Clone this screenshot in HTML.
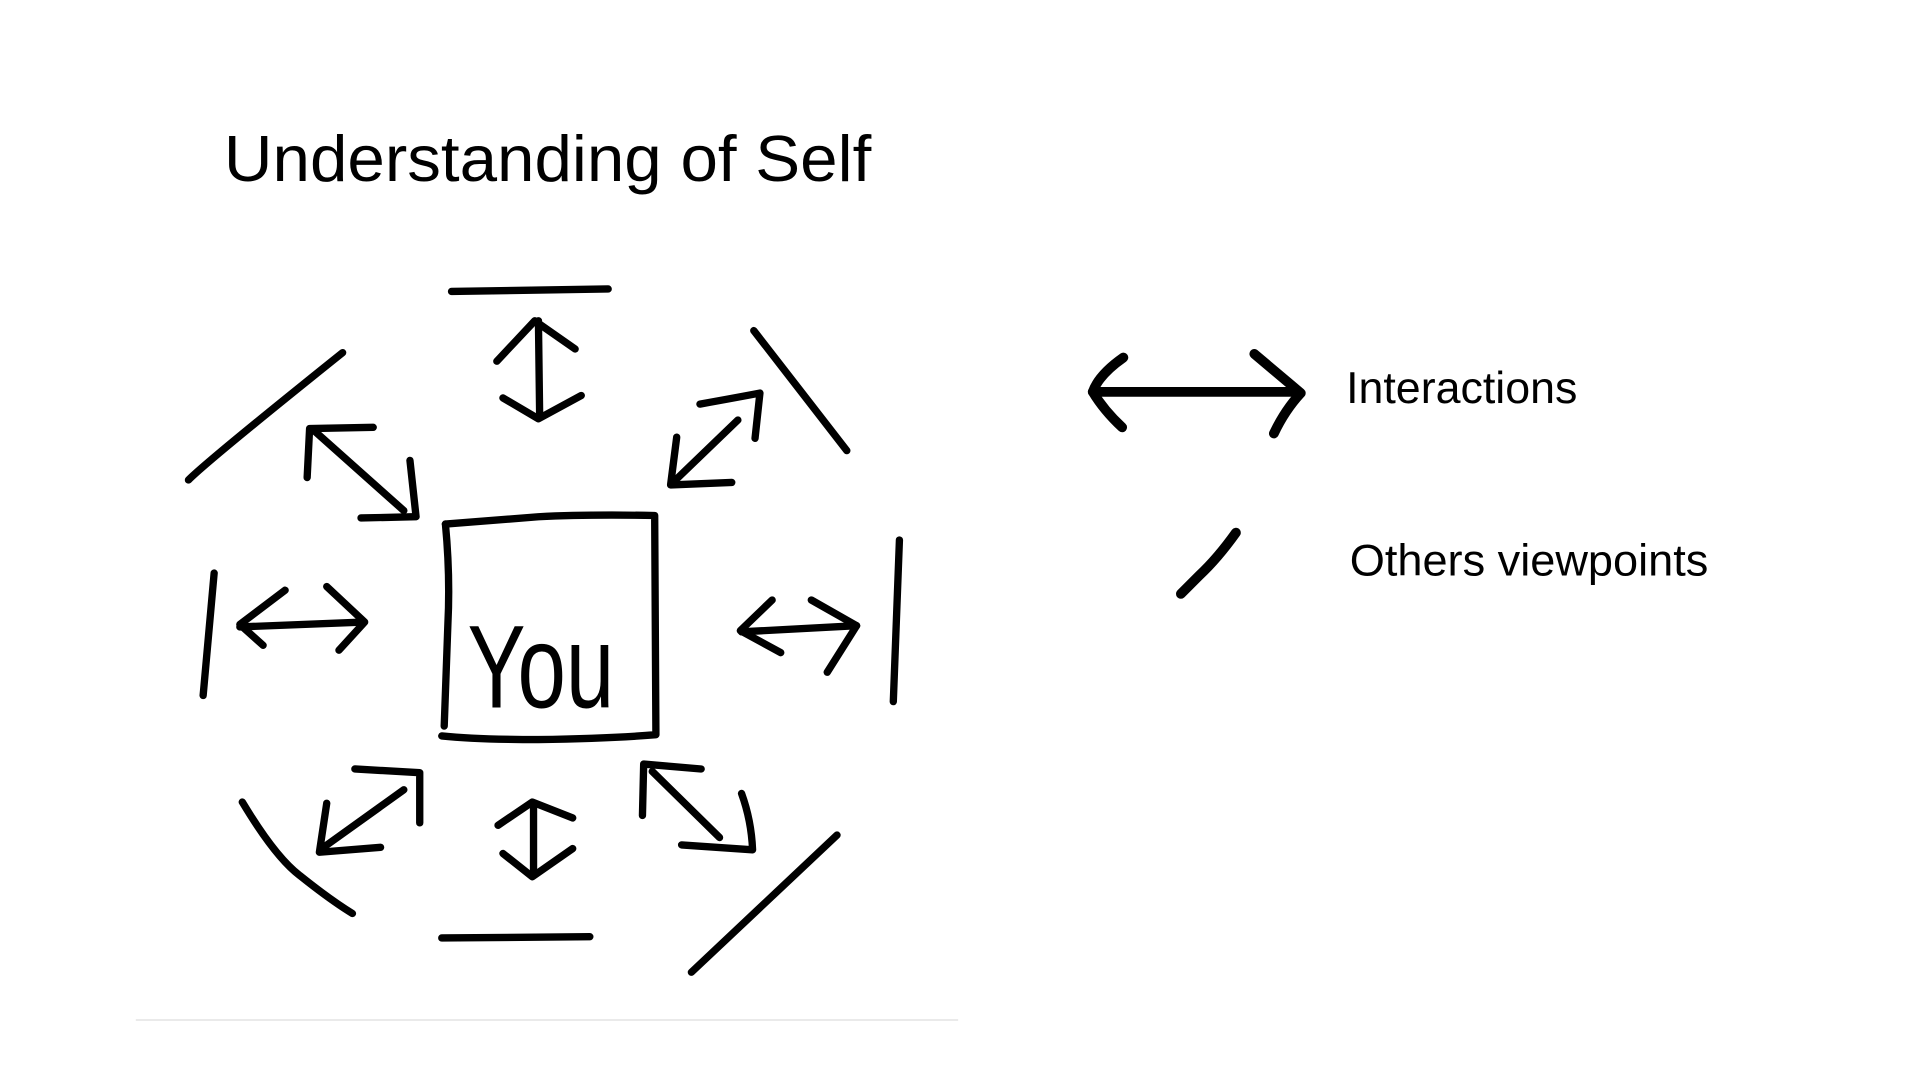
<!DOCTYPE html>
<html><head><meta charset="utf-8"><style>
html,body{margin:0;padding:0;background:#fff;width:1920px;height:1080px;overflow:hidden}
svg{display:block}
</style></head><body>
<svg width="1920" height="1080" viewBox="0 0 1569 882" preserveAspectRatio="none" xmlns="http://www.w3.org/2000/svg">
<rect width="1569" height="882" fill="#fff"/>
<text x="183" y="148" font-family="Liberation Sans, sans-serif" font-size="53" fill="#000" textLength="529" lengthAdjust="spacingAndGlyphs">Understanding of Self</text>
<text x="1100" y="329" font-family="Liberation Sans, sans-serif" font-size="36" fill="#000" textLength="189" lengthAdjust="spacingAndGlyphs">Interactions</text>
<text x="1103" y="470" font-family="Liberation Sans, sans-serif" font-size="36" fill="#000" textLength="293" lengthAdjust="spacingAndGlyphs">Others viewpoints</text>
<line x1="111" y1="833" x2="783" y2="833" stroke="#ddd" stroke-width="1"/>
<g fill="none" stroke="#000" stroke-width="6" stroke-linecap="round" stroke-linejoin="round">
<path d="M364 428 L440 422 Q480 420 535 421 L536 600 Q500 603 440 604 Q390 604 361 601"/>
<path d="M364 428 Q368 470 366 510 L363 593"/>
<path d="M369 238 L497 236"/>
<path d="M154 392 Q170 376 280 288"/>
<path d="M616 270 L692 368"/>
<path d="M175 468 L166 568"/>
<path d="M735 441 L730 573"/>
<path d="M198 655 Q225 700 245 715 Q270 735 288 746"/>
<path d="M361 766 L482 765"/>
<path d="M565 794 L684 682"/>
<path d="M440 262 L441 340"/><path d="M406 295 L437 262 L470 285"/><path d="M411 325 L440 342 L475 323"/>
<path d="M436 656 L436 714"/><path d="M407 674 L435 655 L468 668"/><path d="M411 697 L435 716 L468 693"/>
<path d="M196 512 L297 508"/><path d="M233 482 L196 510 L215 527"/><path d="M267 479 L298 508 L277 531"/>
<path d="M606 516 L700 511"/><path d="M631 490 L605 515 L638 533"/><path d="M663 490 L700 511 L676 549"/>
<path d="M257 352 L330 417"/><path d="M251 390 L253 350 L305 349"/><path d="M335 376 L340 422 L295 423"/>
<path d="M603 343 L551 393"/><path d="M553 357 L548 396 L598 394"/><path d="M572 330 Q600 325 621 321 L617 358"/>
<path d="M330 645 L263 693"/><path d="M267 656 L261 696 L311 692"/><path d="M290 628 L343 631 L343 672"/>
<path d="M533 630 L588 684"/><path d="M525 666 L526 624 L573 628"/><path d="M606 648 Q614 670 615 694 L557 690"/>
</g>
<g fill="none" stroke="#000" stroke-width="8" stroke-linecap="round" stroke-linejoin="round">
<path d="M893 320 L1061 320"/><path d="M918 292 Q898 306 893 320 Q902 335 917 349"/><path d="M1025 289 Q1050 310 1063 321 Q1050 335 1041 354"/>
<path d="M1010 435 Q995 456 980 470 L965 485"/>
</g>
<text x="382" y="578" font-family="Liberation Sans, sans-serif" font-size="96" fill="#000" textLength="120" lengthAdjust="spacingAndGlyphs">You</text>
</svg>
</body></html>
